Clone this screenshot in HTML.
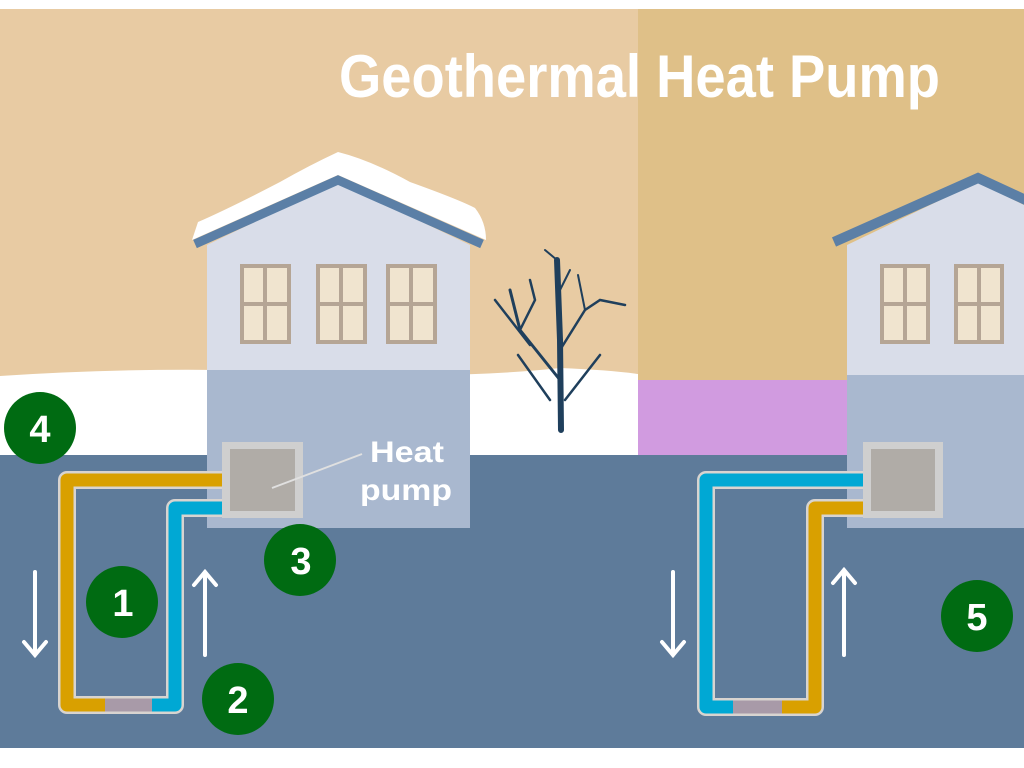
<!DOCTYPE html>
<html><head><meta charset="utf-8"><style>
html,body{margin:0;padding:0;background:#fff;}
svg{display:block;}
</style></head><body>
<svg width="1024" height="768" viewBox="0 0 1024 768" xmlns="http://www.w3.org/2000/svg" font-family="Liberation Sans, sans-serif">
<rect x="0" y="0" width="1024" height="768" fill="#fff"/>
<rect x="0" y="9" width="638" height="370" fill="#e8cba3"/>
<rect x="638" y="9" width="386" height="375" fill="#dfc088"/>
<!-- snow -->
<path d="M0 376 Q150 366 300 372 Q450 380 560 368 Q610 370 638 374 L638 456 L0 456 Z" fill="#fff"/>
<rect x="638" y="380" width="210" height="76" fill="#d19be0"/>
<!-- ground -->
<rect x="0" y="455" width="1024" height="293" fill="#5e7b9a"/>
<!-- title -->
<text x="339" y="97" font-size="60" font-weight="bold" fill="#fff" textLength="601" lengthAdjust="spacingAndGlyphs">Geothermal Heat Pump</text>
<!-- left house -->
<path d="M192 240 L198 222 Q230 208 280 182 Q310 165 338 152 Q370 160 410 182 Q460 200 475 208 Q486 222 486 240 L338 175 Z" fill="#fff"/>
<polygon points="207,245 338,182 470,245 470,372 207,372" fill="#d9dde9"/>
<rect x="207" y="370" width="263" height="158" fill="#a9b8cf"/>
<polyline points="195,244 338,180 482,244" fill="none" stroke="#5b7fa6" stroke-width="9"/>
<!-- right house -->
<polygon points="847,245 978,182 1024,205 1024,378 847,378" fill="#d9dde9"/>
<rect x="847" y="375" width="177" height="153" fill="#a9b8cf"/>
<polyline points="834,242 978,178 1030,202" fill="none" stroke="#5b7fa6" stroke-width="10"/>
<g fill="#f0e4cf" stroke="#b5a595" stroke-width="4">
<rect x="242" y="266" width="47" height="76"/><rect x="318" y="266" width="47" height="76"/><rect x="388" y="266" width="47" height="76"/>
<rect x="882" y="266" width="46" height="76"/><rect x="956" y="266" width="46" height="76"/>
</g>
<g stroke="#b5a595" stroke-width="4">
<line x1="265" y1="266" x2="265" y2="342"/><line x1="242" y1="304" x2="289" y2="304"/>
<line x1="341" y1="266" x2="341" y2="342"/><line x1="318" y1="304" x2="365" y2="304"/>
<line x1="411" y1="266" x2="411" y2="342"/><line x1="388" y1="304" x2="435" y2="304"/>
<line x1="905" y1="266" x2="905" y2="342"/><line x1="882" y1="304" x2="928" y2="304"/>
<line x1="979" y1="266" x2="979" y2="342"/><line x1="956" y1="304" x2="1002" y2="304"/>
</g>
<!-- heat pumps -->
<rect x="222" y="442" width="81" height="76" fill="#cfcfcf"/>
<rect x="230" y="449" width="65" height="62" fill="#b0aca7"/>
<rect x="863" y="442" width="80" height="76" fill="#cfcfcf"/>
<rect x="871" y="449" width="64" height="62" fill="#b0aca7"/>
<line x1="272" y1="488" x2="362" y2="454" stroke="#e0e0e0" stroke-width="2"/>
<text x="370" y="462" font-size="30" font-weight="bold" fill="#fff" textLength="74" lengthAdjust="spacingAndGlyphs">Heat</text>
<text x="360" y="500" font-size="30" font-weight="bold" fill="#fff" textLength="92" lengthAdjust="spacingAndGlyphs">pump</text>
<!-- tree -->
<g stroke="#1f3f5c" fill="none" stroke-linecap="round">
<path d="M561 430 L560 340 L557 260" stroke-width="6"/>
<path d="M560 380 L520 330 L510 290" stroke-width="3"/>
<path d="M530 345 L495 300" stroke-width="2.5"/>
<path d="M520 330 L535 300 L530 280" stroke-width="2.5"/>
<path d="M560 350 L585 310 L600 300 L625 305" stroke-width="2.5"/>
<path d="M585 310 L578 275" stroke-width="2"/>
<path d="M560 290 L570 270" stroke-width="2"/>
<path d="M565 400 L600 355" stroke-width="2.5"/>
<path d="M550 400 L518 355" stroke-width="2.5"/>
<path d="M557 260 L545 250" stroke-width="2"/>
</g>
<!-- pipes left -->
<g fill="none" stroke-linejoin="round">
<path d="M222 480 L67 480 L67 705 L175 705 L175 508 L222 508" stroke="#d8d4d0" stroke-width="18"/>
<path d="M222 480 L67 480 L67 705 L110 705" stroke="#d9a000" stroke-width="13"/>
<path d="M150 705 L175 705 L175 508 L222 508" stroke="#00a8d4" stroke-width="13"/>
<path d="M105 705 L152 705" stroke="#a89aa8" stroke-width="13"/>
<!-- pipes right -->
<path d="M863 480 L706 480 L706 707 L815 707 L815 508 L863 508" stroke="#d8d4d0" stroke-width="18"/>
<path d="M863 480 L706 480 L706 707 L735 707" stroke="#00a8d4" stroke-width="13"/>
<path d="M780 707 L815 707 L815 508 L863 508" stroke="#d9a000" stroke-width="13"/>
<path d="M733 707 L782 707" stroke="#a89aa8" stroke-width="13"/>
</g>
<!-- arrows -->
<g stroke="#fff" stroke-width="4" fill="none" stroke-linecap="round">
<path d="M35 572 L35 655 M24 642 L35 655 L46 642"/>
<path d="M205 655 L205 572 M194 585 L205 572 L216 585"/>
<path d="M673 572 L673 655 M662 642 L673 655 L684 642"/>
<path d="M844 655 L844 570 M833 583 L844 570 L855 583"/>
</g>
<!-- circles -->
<g fill="#006b12">
<circle cx="40" cy="428" r="36"/><circle cx="122" cy="602" r="36"/><circle cx="300" cy="560" r="36"/><circle cx="238" cy="699" r="36"/><circle cx="977" cy="616" r="36"/>
</g>
<g fill="#fff" font-size="38" font-weight="bold" text-anchor="middle">
<text x="40" y="442">4</text><text x="123" y="616">1</text><text x="301" y="574">3</text><text x="238" y="713">2</text><text x="977" y="630">5</text>
</g>
</svg>
</body></html>
